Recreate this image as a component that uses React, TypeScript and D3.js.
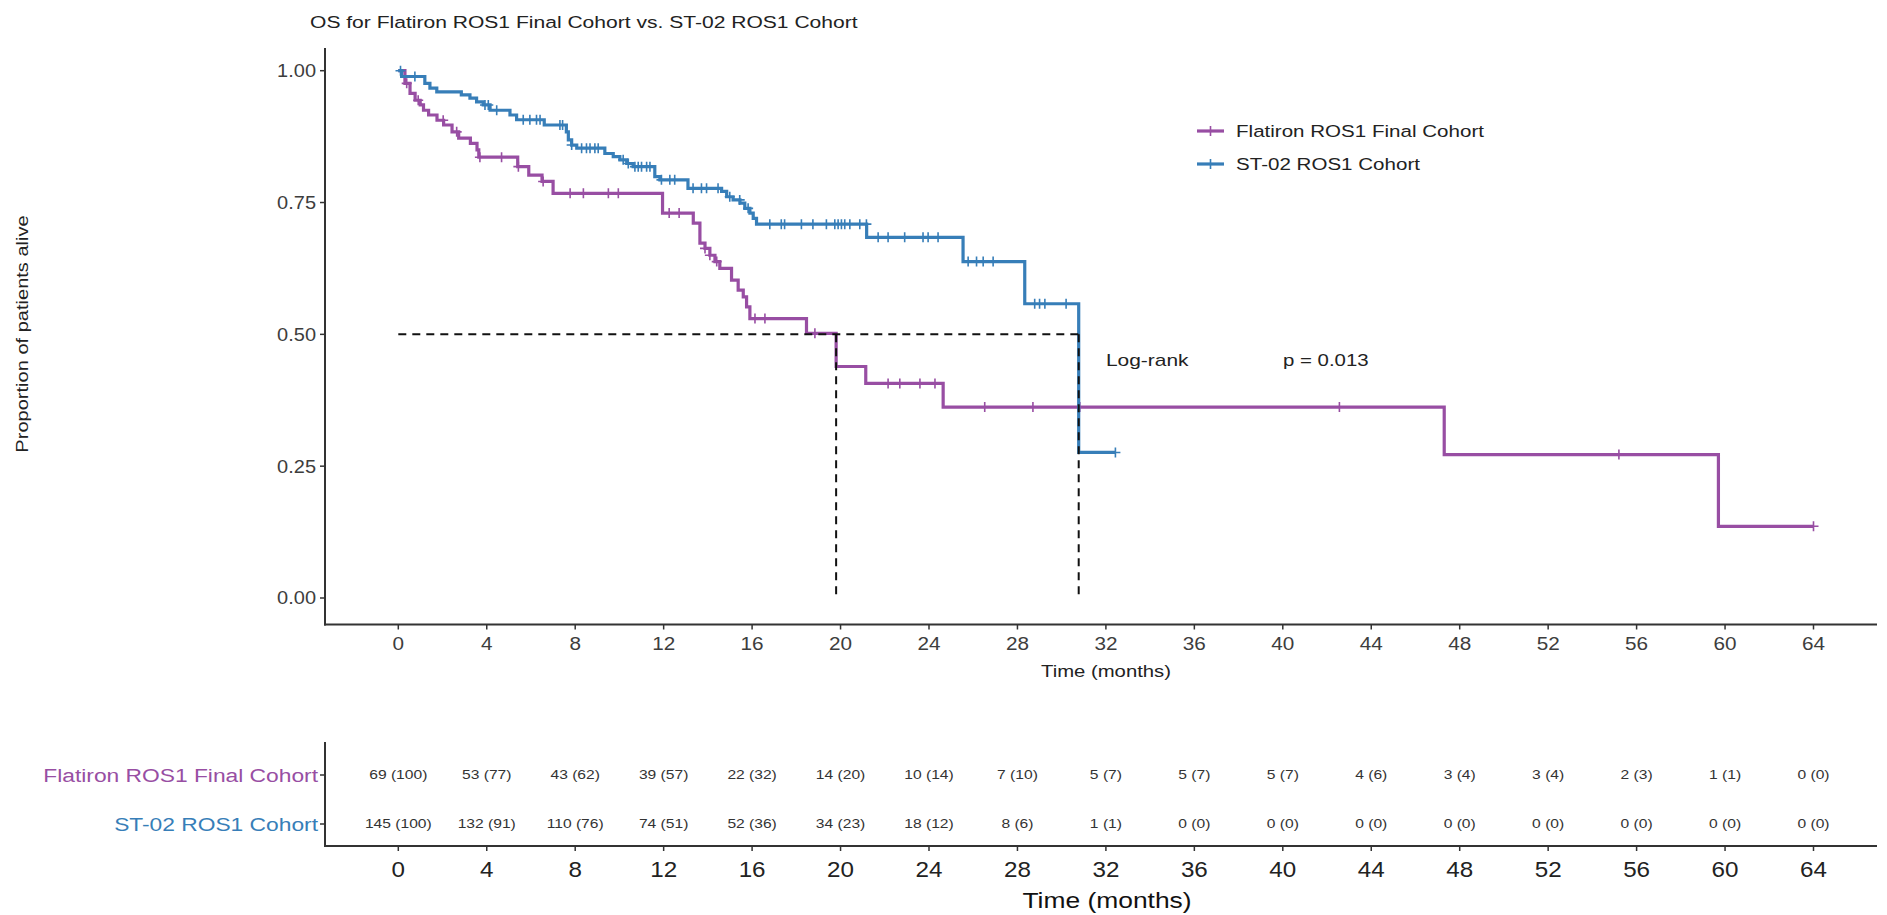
import * as d3 from "d3";
import type { ReactNode } from "react";

// Kaplan-Meier steps: [time in months, survival after the drop]
const flatironSteps: [number, number][] = [
  [0, 1.0], [0.3, 0.976], [0.53, 0.957], [0.76, 0.944], [0.99, 0.935], [1.14, 0.925],
  [1.37, 0.916], [1.75, 0.906], [2.05, 0.897], [2.43, 0.884], [2.73, 0.872], [3.26, 0.862],
  [3.56, 0.85], [3.64, 0.836], [5.4, 0.818], [5.9, 0.802], [6.5, 0.79], [7.0, 0.7675],
  [11.95, 0.73], [13.34, 0.711], [13.64, 0.673], [13.87, 0.663], [14.09, 0.65], [14.32, 0.638],
  [14.54, 0.625], [15.07, 0.603], [15.37, 0.584], [15.6, 0.571], [15.75, 0.552], [15.9, 0.53],
  [18.46, 0.502], [19.8, 0.439], [21.14, 0.407], [24.64, 0.362], [47.3, 0.272], [59.7, 0.136],
];
const flatironEnd = 64.0;
const flatironCensored = [
  0.38, 0.9, 2.03, 2.64, 3.69, 4.67, 5.43, 6.55, 7.77, 8.37, 9.5, 9.95, 12.25, 12.7, 13.87,
  14.09, 14.4, 16.13, 16.58, 18.84, 22.15, 22.68, 23.59, 24.27, 26.52, 28.7, 30.82, 42.56,
  55.2, 64.0,
];

const st02Steps: [number, number][] = [
  [0, 1.0], [0.15, 0.989], [1.2, 0.976], [1.43, 0.967], [1.74, 0.96], [2.85, 0.954],
  [3.24, 0.948], [3.54, 0.941], [3.84, 0.935], [4.15, 0.925], [5.05, 0.916], [5.35, 0.907],
  [6.6, 0.897], [7.6, 0.884], [7.69, 0.869], [7.84, 0.859], [8.07, 0.853], [9.34, 0.843],
  [9.72, 0.837], [10.02, 0.831], [10.33, 0.824], [10.62, 0.818], [11.6, 0.799], [11.83, 0.793],
  [13.1, 0.777], [14.62, 0.771], [14.85, 0.761], [15.14, 0.755], [15.45, 0.749], [15.67, 0.739],
  [15.9, 0.73], [16.05, 0.72], [16.2, 0.709], [21.18, 0.684], [25.54, 0.638], [28.33, 0.558],
  [30.77, 0.276],
];
const st02End = 32.43;
const st02Censored = [
  0.1, 0.75, 3.92, 4.07, 4.45, 5.65, 5.95, 6.25, 6.41, 7.31, 7.43, 7.84, 8.29, 8.51, 8.67,
  8.89, 9.04, 10.17, 10.4, 10.7, 10.85, 11.0, 11.23, 11.38, 11.9, 12.28, 12.5, 13.33, 13.71,
  13.94, 14.46, 14.99, 15.44, 15.82, 16.8, 17.32, 17.47, 18.23, 18.75, 19.36, 19.74, 19.89,
  20.04, 20.19, 20.42, 20.87, 21.17, 21.7, 22.15, 22.9, 23.73, 23.96, 24.41, 25.77, 26.15,
  26.45, 26.9, 28.78, 29.0, 29.24, 30.2, 32.43,
];

const medianTimes = [19.8, 30.77];

const timeTicks = [0, 4, 8, 12, 16, 20, 24, 28, 32, 36, 40, 44, 48, 52, 56, 60, 64];
const survTicks = [0, 0.25, 0.5, 0.75, 1.0];

const groups = ["Flatiron ROS1 Final Cohort", "ST-02 ROS1 Cohort"];
const colors = ["#984EA3", "#377EB8"];

const flatironAtRisk = [69, 53, 43, 39, 22, 14, 10, 7, 5, 5, 5, 4, 3, 3, 2, 1, 0];
const flatironPct = [100, 77, 62, 57, 32, 20, 14, 10, 7, 7, 7, 6, 4, 4, 3, 1, 0];
const st02AtRisk = [145, 132, 110, 74, 52, 34, 18, 8, 1, 0, 0, 0, 0, 0, 0, 0, 0];
const st02Pct = [100, 91, 76, 51, 36, 23, 12, 6, 1, 0, 0, 0, 0, 0, 0, 0, 0];

const W = 1887;
const H = 915;
const FONT = "'Liberation Sans', Arial, Helvetica, sans-serif";
const AXIS = "#333333";
const TXT = "#3d3d3d";

const x = d3.scaleLinear().domain([0, 64]).range([398.3, 1813.5]);
const y = d3.scaleLinear().domain([0, 1]).range([598, 70.7]);

const axisLeft = 325;
const axisBottom = 624.5;
const axisRight = 1877;

function survAt(steps: [number, number][], t: number) {
  let s = steps[0][1];
  for (const [st, sv] of steps) if (st <= t) s = sv;
  return s;
}

const line = d3
  .line<[number, number]>()
  .x((d) => x(d[0]))
  .y((d) => y(d[1]))
  .curve(d3.curveStepAfter);

// text stretched sideways, the source picture is wider than it is tall
function T({
  x: tx, y: ty, size, sx = 1.2, anchor = "start", fill = "#222", rot = 0, children,
}: {
  x: number; y: number; size: number; sx?: number; anchor?: string; fill?: string; rot?: number; children: ReactNode;
}) {
  return (
    <text
      transform={`translate(${tx},${ty}) rotate(${rot}) scale(${sx},1)`}
      dy="0.35em"
      textAnchor={anchor}
      fontSize={size}
      fill={fill}
    >
      {children}
    </text>
  );
}

function Curve({ steps, end, censored, color }: { steps: [number, number][]; end: number; censored: number[]; color: string }) {
  const pts: [number, number][] = [...steps, [end, steps[steps.length - 1][1]]];
  return (
    <g>
      <path d={line(pts) || ""} fill="none" stroke={color} strokeWidth={3.2} />
      {censored.map((t, i) => {
        const cx = x(t);
        const cy = y(survAt(steps, t));
        return (
          <path key={i} d={`M${cx - 5},${cy}H${cx + 5}M${cx},${cy - 5}V${cy + 5}`} stroke={color} strokeWidth={1.6} />
        );
      })}
    </g>
  );
}

export default function App() {
  const riskRows = [
    { label: groups[0], color: colors[0], n: flatironAtRisk, p: flatironPct, yy: 775 },
    { label: groups[1], color: colors[1], n: st02AtRisk, p: st02Pct, yy: 824 },
  ];
  const tblTop = 742;
  const tblBottom = 846;
  return (
    <svg width={W} height={H} style={{ position: "absolute", left: 0, top: 0, background: "#fff" }} fontFamily={FONT}>
      <rect width={W} height={H} fill="#fff" />
      <T x={310} y={22} size={17} sx={1.24}>
        OS for Flatiron ROS1 Final Cohort vs. ST-02 ROS1 Cohort
      </T>

      {/* survival panel axes */}
      <line x1={axisLeft} x2={axisLeft} y1={48} y2={axisBottom + 1} stroke={AXIS} strokeWidth={2} />
      <line x1={axisLeft - 1} x2={axisRight} y1={axisBottom} y2={axisBottom} stroke={AXIS} strokeWidth={2} />
      {survTicks.map((v) => (
        <g key={v}>
          <line x1={axisLeft - 5} x2={axisLeft} y1={y(v)} y2={y(v)} stroke={AXIS} strokeWidth={1.5} />
          <T x={axisLeft - 9} y={y(v)} anchor="end" size={18.5} sx={1.08} fill={TXT}>
            {v.toFixed(2)}
          </T>
        </g>
      ))}
      {timeTicks.map((t) => (
        <g key={t}>
          <line x1={x(t)} x2={x(t)} y1={axisBottom} y2={axisBottom + 5} stroke={AXIS} strokeWidth={1.5} />
          <T x={x(t)} y={644} anchor="middle" size={18.5} sx={1.12} fill={TXT}>
            {t}
          </T>
        </g>
      ))}
      <T x={1106} y={671} anchor="middle" size={16.5} sx={1.23}>
        Time (months)
      </T>
      <T x={22} y={334} rot={-90} anchor="middle" size={17} sx={1.18}>
        Proportion of patients alive
      </T>

      {/* curves */}
      <Curve steps={flatironSteps} end={flatironEnd} censored={flatironCensored} color={colors[0]} />
      <Curve steps={st02Steps} end={st02End} censored={st02Censored} color={colors[1]} />

      {/* median lines */}
      <path
        d={`M${x(0)},${y(0.5)}H${x(d3.max(medianTimes)!)}`}
        stroke="#111"
        strokeWidth={2}
        strokeDasharray="8,6"
        fill="none"
      />
      {medianTimes.map((m) => (
        <path key={m} d={`M${x(m)},${y(0.5)}V${y(0)}`} stroke="#111" strokeWidth={2} strokeDasharray="8,6" fill="none" />
      ))}

      {/* legend */}
      {groups.map((g, i) => {
        const ly = 131 + i * 33;
        return (
          <g key={g}>
            <line x1={1197} x2={1224} y1={ly} y2={ly} stroke={colors[i]} strokeWidth={3.2} />
            <path d={`M1205.5,${ly}H1215.5M1210.5,${ly - 5}V${ly + 5}`} stroke={colors[i]} strokeWidth={1.6} />
            <T x={1236} y={ly} size={17} sx={1.21}>
              {g}
            </T>
          </g>
        );
      })}

      <T x={1106} y={360} size={17} sx={1.23}>
        Log-rank
      </T>
      <T x={1283} y={360} size={17} sx={1.2}>
        p = 0.013
      </T>

      {/* risk table */}
      <line x1={axisLeft} x2={axisLeft} y1={tblTop} y2={tblBottom + 1} stroke={AXIS} strokeWidth={2} />
      <line x1={axisLeft - 1} x2={axisRight} y1={tblBottom} y2={tblBottom} stroke={AXIS} strokeWidth={2} />
      {riskRows.map((r) => (
        <g key={r.label}>
          <line x1={axisLeft - 5} x2={axisLeft} y1={r.yy} y2={r.yy} stroke={AXIS} strokeWidth={1.5} />
          <T x={axisLeft - 7} y={r.yy} anchor="end" size={19} sx={1.2} fill={r.color}>
            {r.label}
          </T>
          {timeTicks.map((t, i) => (
            <T key={t} x={x(t)} y={r.yy} anchor="middle" size={12.5} sx={1.25} fill="#333">
              {`${r.n[i]} (${r.p[i]})`}
            </T>
          ))}
        </g>
      ))}
      {timeTicks.map((t) => (
        <g key={t}>
          <line x1={x(t)} x2={x(t)} y1={tblBottom} y2={tblBottom + 5} stroke={AXIS} strokeWidth={1.5} />
          <T x={x(t)} y={869} anchor="middle" size={22} sx={1.1}>
            {t}
          </T>
        </g>
      ))}
      <T x={1107} y={900} anchor="middle" size={22} sx={1.2} fill="#111">
        Time (months)
      </T>
    </svg>
  );
}
